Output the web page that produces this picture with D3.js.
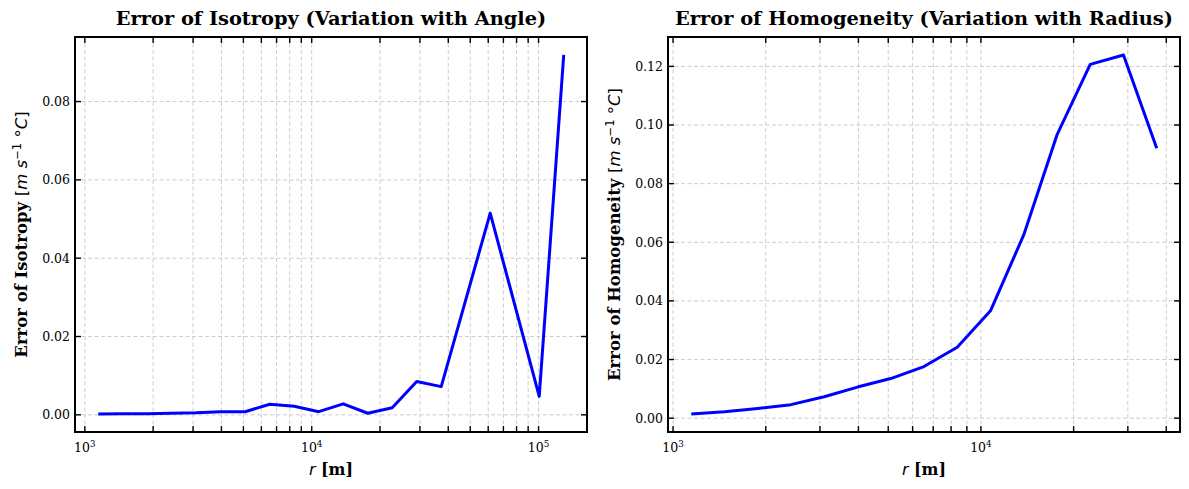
<!DOCTYPE html>
<html lang="en">
<head>
  <meta charset="UTF-8">
  <title>Error of Isotropy / Homogeneity</title>
  <script src="https://d3js.org/d3.v7.min.js"></script>
  <style>
    body { margin: 0; background: #fff; }
    svg { display: block; }
  </style>
</head>
<body>
<svg width="1189" height="489"></svg>
<script>
  // radius values (m)
  var rIso = [1146, 1469, 1884, 2415, 3097, 3972, 5093, 6531, 8375, 10740, 13772,
    17660, 22646, 29040, 37239, 61235, 100693, 129122];
  var errIso = [0.0002, 0.0003, 0.0003, 0.0004, 0.0005, 0.0008, 0.0008, 0.0027, 0.0022,
    0.0008, 0.0028, 0.0004, 0.0018, 0.0085, 0.0072, 0.0515, 0.0047, 0.0919];

  var rHom = [1146, 1469, 1884, 2415, 3097, 3972, 5093, 6531, 8375, 10740, 13772,
    17660, 22646, 29040, 37239];
  var errHom = [0.0014, 0.0022, 0.0033, 0.0046, 0.0073, 0.0106, 0.0135, 0.0176, 0.0242,
    0.0366, 0.0625, 0.0966, 0.1207, 0.1239, 0.0921];

  var yTicksIso = [0, 0.02, 0.04, 0.06, 0.08];
  var yTicksHom = [0, 0.02, 0.04, 0.06, 0.08, 0.10, 0.12];
  var xExpIso = [3, 4, 5];
  var xExpHom = [3, 4];

  var SERIF = "'DejaVu Serif', serif";
  var MATH = "'DejaVu Sans', sans-serif";
  var TICK_FS = 12.5, XLABEL_FS = 16, YLABEL_FS = 16.5, TITLE_FS = 19.4;

  var svg = d3.select('svg');

  function panel(cfg) {
    var x0 = cfg.left, x1 = cfg.right, y0 = cfg.top, y1 = cfg.bottom;
    var g = svg.append('g');

    // matplotlib-like 5% margins (in log space for x)
    var lr = cfg.r.map(Math.log10);
    var lo = d3.min(lr), hi = d3.max(lr), span = hi - lo;
    var x = d3.scaleLog()
      .domain([Math.pow(10, lo - 0.05 * span), Math.pow(10, hi + 0.05 * span)])
      .range([x0, x1]);
    var ext = d3.extent(cfg.err), vs = ext[1] - ext[0];
    var y = d3.scaleLinear()
      .domain([ext[0] - 0.05 * vs, ext[1] + 0.05 * vs])
      .range([y1, y0]);

    var dom = x.domain();
    var xt = x.ticks().filter(function (t) { return t >= dom[0] && t <= dom[1]; });

    // grid
    g.selectAll('.gx').data(xt).enter().append('line')
      .attr('x1', function (d) { return x(d); }).attr('x2', function (d) { return x(d); })
      .attr('y1', y0).attr('y2', y1)
      .attr('stroke', '#c8c8c8').attr('stroke-width', 0.9).attr('stroke-dasharray', '4,2.5');
    g.selectAll('.gy').data(cfg.yTicks).enter().append('line')
      .attr('x1', x0).attr('x2', x1)
      .attr('y1', function (d) { return y(d); }).attr('y2', function (d) { return y(d); })
      .attr('stroke', '#c8c8c8').attr('stroke-width', 0.9).attr('stroke-dasharray', '4,2.5');

    // data line
    var line = d3.line()
      .x(function (d) { return x(d[0]); })
      .y(function (d) { return y(d[1]); });
    g.append('path')
      .datum(d3.zip(cfg.r, cfg.err))
      .attr('fill', 'none')
      .attr('stroke', '#0000ff')
      .attr('stroke-width', 3)
      .attr('stroke-linejoin', 'round')
      .attr('d', line);

    // ticks, inward on all four sides
    var tl = 6;
    xt.forEach(function (t) {
      var px = x(t);
      g.append('line').attr('x1', px).attr('x2', px).attr('y1', y1).attr('y2', y1 - tl)
        .attr('stroke', '#000').attr('stroke-width', 1.4);
      g.append('line').attr('x1', px).attr('x2', px).attr('y1', y0).attr('y2', y0 + tl)
        .attr('stroke', '#000').attr('stroke-width', 1.4);
    });
    cfg.yTicks.forEach(function (t) {
      var py = y(t);
      g.append('line').attr('x1', x0).attr('x2', x0 + tl).attr('y1', py).attr('y2', py)
        .attr('stroke', '#000').attr('stroke-width', 1.4);
      g.append('line').attr('x1', x1).attr('x2', x1 - tl).attr('y1', py).attr('y2', py)
        .attr('stroke', '#000').attr('stroke-width', 1.4);
      g.append('text')
        .attr('x', x0 - 5).attr('y', py).attr('dy', '0.35em')
        .attr('text-anchor', 'end')
        .attr('font-family', SERIF).attr('font-size', TICK_FS)
        .text(d3.format('.2f')(t));
    });

    // x tick labels 10^n
    cfg.xExp.forEach(function (e) {
      var t = g.append('text')
        .attr('x', x(Math.pow(10, e))).attr('y', y1 + 20)
        .attr('text-anchor', 'middle')
        .attr('font-family', SERIF).attr('font-size', TICK_FS);
      t.append('tspan').text('10');
      t.append('tspan').attr('dy', -5).attr('font-size', TICK_FS * 0.7).text(e);
    });

    // frame
    g.append('rect')
      .attr('x', x0).attr('y', y0).attr('width', x1 - x0).attr('height', y1 - y0)
      .attr('fill', 'none').attr('stroke', '#000').attr('stroke-width', 2);

    // title
    g.append('text')
      .attr('x', (x0 + x1) / 2).attr('y', 25)
      .attr('text-anchor', 'middle')
      .attr('font-family', SERIF).attr('font-weight', 'bold').attr('font-size', TITLE_FS)
      .text(cfg.title);

    // x label
    var xl = g.append('text')
      .attr('x', (x0 + x1) / 2).attr('y', y1 + 43)
      .attr('text-anchor', 'middle').attr('font-size', XLABEL_FS);
    xl.append('tspan').attr('font-family', MATH).attr('font-style', 'italic').text('r');
    xl.append('tspan').attr('font-family', SERIF).attr('font-weight', 'bold').text(' [m]');

    // y label
    var yl = g.append('text')
      .attr('transform', 'translate(' + cfg.ylabelX + ',' + (y0 + y1) / 2 + ') rotate(-90)')
      .attr('text-anchor', 'middle').attr('font-size', YLABEL_FS);
    yl.append('tspan').attr('font-family', SERIF).attr('font-weight', 'bold').text(cfg.ylabel + ' ');
    yl.append('tspan').attr('font-family', MATH).text('[');
    yl.append('tspan').attr('font-family', MATH).attr('font-style', 'italic').text('m s');
    yl.append('tspan').attr('font-family', MATH).attr('font-size', YLABEL_FS * 0.7)
      .attr('dy', -6.5).text('\u22121');
    yl.append('tspan').attr('font-family', MATH).attr('dy', 6.5).text(' \u00b0');
    yl.append('tspan').attr('font-family', MATH).attr('font-style', 'italic').text('C');
    yl.append('tspan').attr('font-family', MATH).text(']');
  }

  panel({
    left: 75, right: 587, top: 37, bottom: 432,
    r: rIso, err: errIso, yTicks: yTicksIso, xExp: xExpIso,
    title: 'Error of Isotropy (Variation with Angle)',
    ylabel: 'Error of Isotropy', ylabelX: 27
  });

  panel({
    left: 668, right: 1180, top: 37, bottom: 432,
    r: rHom, err: errHom, yTicks: yTicksHom, xExp: xExpHom,
    title: 'Error of Homogeneity (Variation with Radius)',
    ylabel: 'Error of Homogeneity', ylabelX: 620
  });
</script>
</body>
</html>
